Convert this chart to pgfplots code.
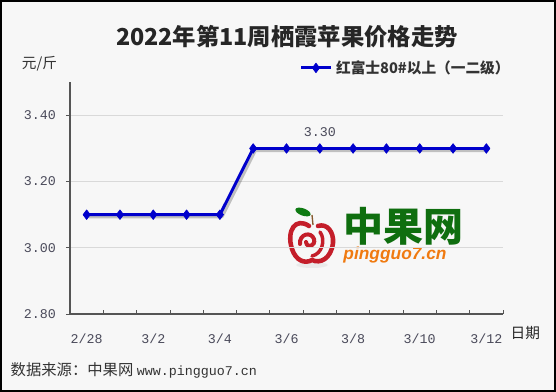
\documentclass[border=0pt]{standalone}
\usepackage{pgfplots}
\pgfplotsset{compat=1.18}
\usepackage{fontspec}
\setmainfont{Noto Sans CJK SC}
\newfontfamily\monof{Liberation Mono}
\newfontfamily\logof{Liberation Sans}
\definecolor{bg}{HTML}{F7F7F7}
\definecolor{lineblue}{HTML}{0000CC}
\definecolor{gridc}{HTML}{D9D9D9}
\definecolor{axisc}{HTML}{555555}
\definecolor{textc}{HTML}{333333}
\definecolor{tickc}{HTML}{4A4A5A}
\definecolor{applered}{HTML}{C41E2A}
\definecolor{leafgreen}{HTML}{0E7A12}
\definecolor{logogreen}{HTML}{0F6E0F}
\definecolor{logoorange}{HTML}{F07A10}
\begin{document}
\begin{tikzpicture}[x=0.75pt,y=0.75pt]
\path[use as bounding box] (0,0) rectangle (556,392);
\fill[bg] (0,0) rectangle (556,392);
\draw[black, line width=1.5pt] (1,1) rectangle (555,391);
% title and side texts
\node[font=\bfseries\fontsize{17.5}{20}\selectfont, text=black!85] at (287,355) {2022年第11周栖霞苹果价格走势};
\node[font=\fontsize{11}{13}\selectfont, text=textc] at (39.5,328) {元/斤};
\node[font=\fontsize{11}{13}\selectfont, text=black!85, anchor=west] at (506,59) {日期};
\node[anchor=west, text=textc] at (6,22) {\fontsize{11.5}{13}\selectfont 数据来源：中果网 \monof\fontsize{10}{12}\selectfont www.pingguo7.cn};
% watermark logo
\fill[gray!25, opacity=0.5] (312,127) ellipse (16 and 3);
\draw[applered, line width=3.4pt, line cap=round] (309,166) .. controls (296,175) and (286,162) .. (292,143) .. controls (296,131) and (305,128) .. (312,132) .. controls (320,128) and (331,133) .. (333,149) .. controls (334,160) and (327,169) .. (318,166);
\draw[applered, line width=3pt, line cap=round] (300,148) .. controls (299,158) and (311,161) .. (314,153) .. controls (316,146) and (307,143) .. (306,150);
\draw[applered, line width=2.6pt, line cap=round] (320,160) .. controls (326,152) and (322,138) .. (312,136);
\fill[leafgreen, rotate around={-20:(303,180)}] (303,180) ellipse (8 and 3.6);
\draw[brown!70!black, line width=1pt] (312,177) -- (313,167);
\node[font=\bfseries\fontsize{30}{32}\selectfont, text=logogreen] at (403,166) {中果网};
\node[font=\logof\bfseries\itshape\fontsize{13}{15}\selectfont, text=logoorange] at (395,137) {pingguo7.cn};
\begin{axis}[
  at={(52.5pt,58.5pt)}, anchor=south west, scale only axis,
  width=324.75pt, height=173.8pt,
  xmin=-0.5, xmax=12.5, ymin=2.8, ymax=3.5,
  axis x line*=bottom, axis y line*=left,
  axis line style={draw=axisc, line width=0.8pt, -},
  xtick={0,2,4,6,8,10,12},
  xticklabels={2/28,3/2,3/4,3/6,3/8,3/10,3/12},
  major x tick style={draw=none},
  extra x ticks={0.5,1.5,2.5,3.5,4.5,5.5,6.5,7.5,8.5,9.5,10.5,11.5,12.5},
  extra x tick labels={},
  extra x tick style={xtick align=inside, major tick length=3pt, grid=none,
    major x tick style={draw=axisc, line width=0.6pt}},
  ytick={2.8,3.0,3.2,3.4},
  yticklabels={2.80,3.00,3.20,3.40},
  ytick align=outside, major tick length=3pt,
  y tick style={draw=axisc, line width=0.6pt},
  ymajorgrids, grid style={gridc, line width=0.75pt},
  tick label style={font=\monof\fontsize{10}{12}\selectfont, text=tickc},
  xticklabel style={yshift=-11.5pt},
  yticklabel style={xshift=-4pt},
  legend style={at={(1.025,1.062)}, anchor=east, draw=none, fill=none,
    font=\bfseries\fontsize{11}{12}\selectfont, text=textc, inner sep=0pt,
    nodes={inner xsep=3pt, inner ysep=0pt}},
  legend image code/.code={\draw[#1, mark repeat=2, mark phase=2] plot coordinates {(0pt,0pt) (11pt,0pt) (22pt,0pt)};},
  clip=false,
]
\addplot[black, opacity=0.22, line width=2.6pt, xshift=1.5pt, yshift=-1.5pt, forget plot, line join=round]
  coordinates {(0,3.10) (1,3.10) (2,3.10) (3,3.10) (4,3.10) (5,3.30) (6,3.30) (7,3.30) (8,3.30) (9,3.30) (10,3.30) (11,3.30) (12,3.30)};
\addplot[lineblue, line width=2.2pt, line join=round, mark=diamond*, mark size=3.6pt, mark options={solid, line width=0.5pt}]
  coordinates {(0,3.10) (1,3.10) (2,3.10) (3,3.10) (4,3.10) (5,3.30) (6,3.30) (7,3.30) (8,3.30) (9,3.30) (10,3.30) (11,3.30) (12,3.30)};
\addlegendentry{红富士80\#以上（一二级）}
\addplot[draw=none, mark=none, forget plot, nodes near coords, point meta=explicit symbolic,
  every node near coord/.style={anchor=center, yshift=12pt, font=\monof\fontsize{10}{12}\selectfont, text=tickc}]
  coordinates {(7,3.30) [3.30]};
\end{axis}
\end{tikzpicture}
\end{document}
